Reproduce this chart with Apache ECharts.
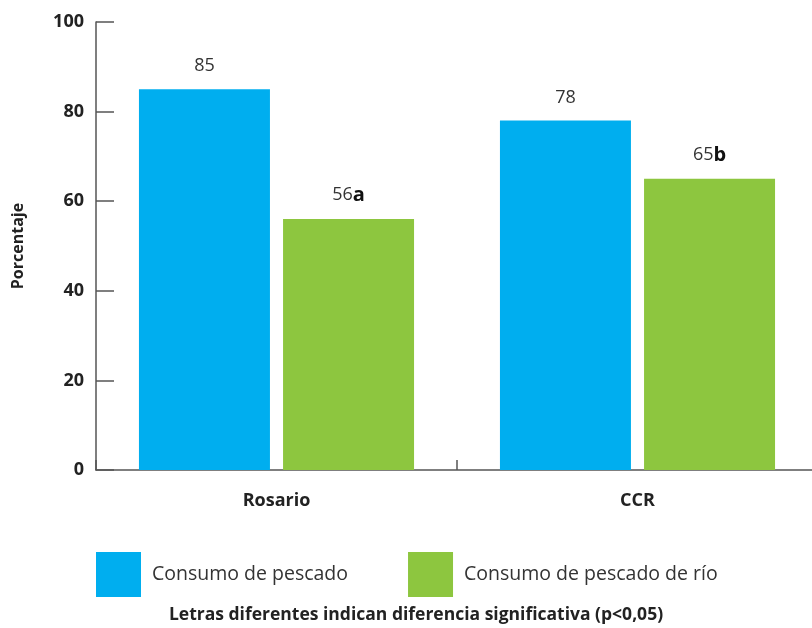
<!DOCTYPE html>
<html><head><meta charset="utf-8">
<script src="https://cdn.jsdelivr.net/npm/echarts@6/dist/echarts.min.js"></script>
<style>html,body{margin:0;padding:0;background:#fff}#c{width:812px;height:628px}</style>
</head><body><div id="c"></div>
<script>
const categories = ['Rosario', 'CCR'];
const seriesNames = ['Consumo de pescado', 'Consumo de pescado de río'];
const pescado = [85, 78];
const pescadoRio = [56, 65];
const letters = ['a', 'b'];
const yTicks = [0, 20, 40, 60, 80, 100];
const footnote = 'Letras diferentes indican diferencia significativa (p<0,05)';

const FONT = 'Open Sans';
const chart = echarts.init(document.getElementById('c'));
const labelBase = {
  show: true, position: 'top', distance: 14,
  color: '#333', fontFamily: FONT, fontSize: 18
};
chart.setOption({
  animation: false,
  textStyle: {fontFamily: FONT},
  grid: {left: 96, top: 22, bottom: 158, right: -6, containLabel: false, outerBoundsMode: 'none'},
  legend: {
    left: 96, top: 552, itemWidth: 45, itemHeight: 45, itemGap: 60, padding: 0,
    icon: 'rect',
    textStyle: {fontSize: 19.5, color: '#333', fontFamily: FONT, padding: [0, 0, 0, 6]},
    data: seriesNames
  },
  xAxis: {
    type: 'category', data: categories,
    axisLine: {lineStyle: {color: '#555', width: 1.5}},
    axisTick: {show: true, interval: 0, inside: true, length: 10, lineStyle: {color: '#555', width: 1.5}},
    axisLabel: {fontWeight: 'bold', fontSize: 18, color: '#222', margin: 22, fontFamily: FONT}
  },
  yAxis: {
    type: 'value', min: yTicks[0], max: yTicks[yTicks.length - 1], interval: 20,
    name: 'Porcentaje', nameLocation: 'middle', nameGap: 70, nameRotate: 90,
    nameTextStyle: {fontWeight: 'bold', fontSize: 16, color: '#222', fontFamily: FONT},
    axisLine: {show: true, lineStyle: {color: '#555', width: 1.5}},
    axisTick: {show: true, inside: true, length: 18, lineStyle: {color: '#555', width: 1.5}},
    splitLine: {show: false},
    axisLabel: {fontWeight: 'bold', fontSize: 18, color: '#222', margin: 12, fontFamily: FONT}
  },
  series: [
    {
      name: seriesNames[0], type: 'bar', data: pescado, barWidth: 131, barGap: '10%',
      itemStyle: {color: '#00AEEF'},
      label: labelBase
    },
    {
      name: seriesNames[1], type: 'bar', data: pescadoRio, barWidth: 131,
      itemStyle: {color: '#8DC63F'},
      label: Object.assign({}, labelBase, {
        formatter: p => '{n|' + p.value + '}{l|' + letters[p.dataIndex] + '}',
        rich: {
          n: {fontSize: 18, color: '#333', fontFamily: FONT},
          l: {fontSize: 20, fontWeight: 'bold', color: '#111', fontFamily: FONT}
        }
      })
    }
  ],
  graphic: [{
    type: 'text', x: 416, y: 615,
    style: {text: footnote, fontSize: 17.5, fontWeight: 'bold', fill: '#222', fontFamily: FONT,
            textAlign: 'center', textVerticalAlign: 'middle'}
  }]
});
</script></body></html>
